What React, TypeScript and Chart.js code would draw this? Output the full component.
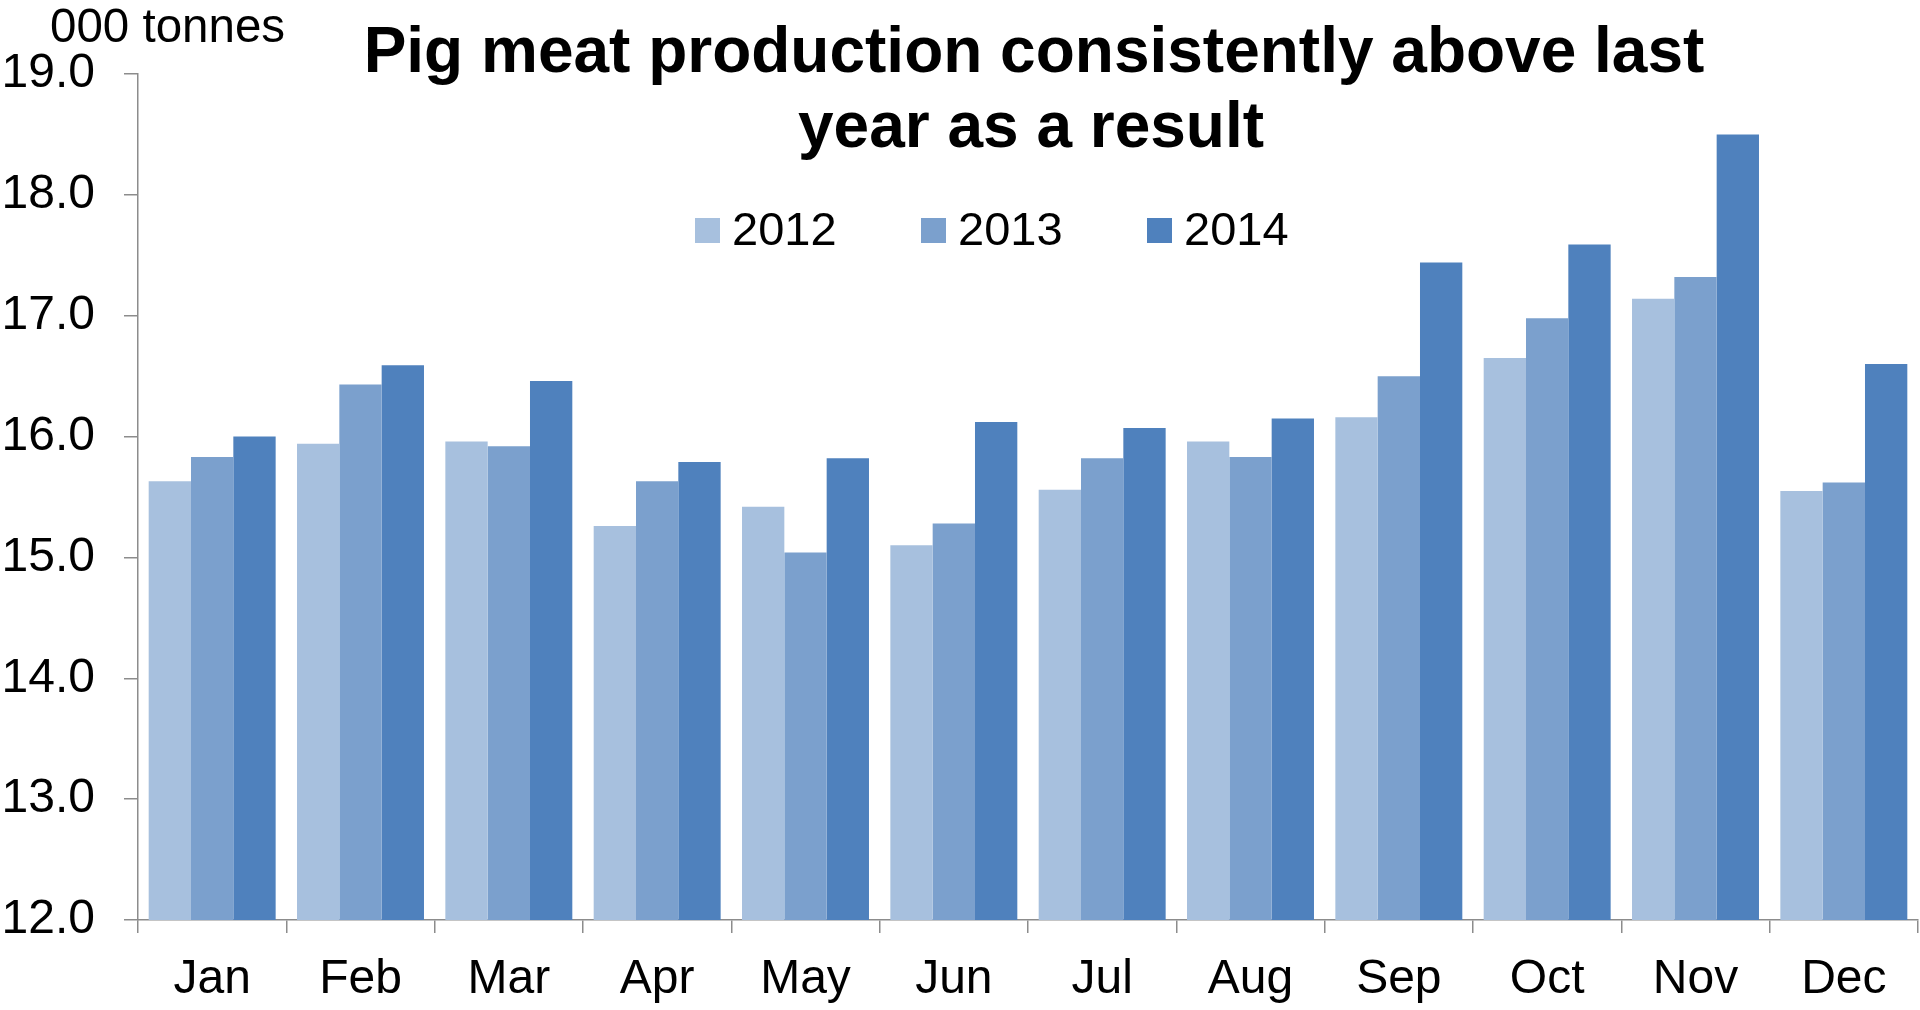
import React, { useEffect, useRef } from "react";
import { Chart, registerables } from "chart.js";

Chart.register(...registerables);

const months = ["Jan", "Feb", "Mar", "Apr", "May", "Jun", "Jul", "Aug", "Sep", "Oct", "Nov", "Dec"];
const seriesNames = ["2012", "2013", "2014"];
const values2012 = [15.63, 15.94, 15.96, 15.26, 15.42, 15.10, 15.56, 15.96, 16.16, 16.65, 17.14, 15.55];
const values2013 = [15.83, 16.43, 15.92, 15.63, 15.04, 15.28, 15.82, 15.83, 16.50, 16.98, 17.32, 15.62];
const values2014 = [16.00, 16.59, 16.46, 15.79, 15.82, 16.12, 16.07, 16.15, 17.44, 17.59, 18.50, 16.60];
const colors = ["#A7C0DE", "#7BA0CD", "#4F81BD"];
const titleLines = ["Pig meat production consistently above last", "year as a result"];
const unitLabel = "000 tonnes";

const FONT = "'Liberation Sans', Arial, sans-serif";

const overlayPlugin = {
  id: "overlay",
  afterDraw(chart: any) {
    const ctx = chart.ctx;
    ctx.save();
    ctx.fillStyle = "#000";
    ctx.textBaseline = "alphabetic";
    // unit label
    ctx.font = `47.5px ${FONT}`;
    ctx.textAlign = "left";
    ctx.fillText(unitLabel, 50, 42);
    // title
    ctx.font = `bold 64px ${FONT}`;
    ctx.textAlign = "center";
    ctx.fillText(titleLines[0], 1034, 72);
    ctx.fillText(titleLines[1], 1031, 147);
    // legend
    const startXs = [695, 921, 1147];
    ctx.font = `47px ${FONT}`;
    ctx.textAlign = "left";
    seriesNames.forEach((name, i) => {
      ctx.fillStyle = colors[i];
      ctx.fillRect(startXs[i], 218, 25, 25);
      ctx.fillStyle = "#000";
      ctx.fillText(name, startXs[i] + 37, 245);
    });
    ctx.restore();
  },
};

export default function App() {
  const ref = useRef<HTMLCanvasElement>(null);
  useEffect(() => {
    document.body.style.margin = "0";
    document.body.style.overflow = "hidden";
    const chart = new Chart(ref.current as HTMLCanvasElement, {
      type: "bar",
      data: {
        labels: months,
        datasets: [values2012, values2013, values2014].map((d, i) => ({
          label: seriesNames[i],
          data: d,
          backgroundColor: colors[i],
          borderWidth: 0,
          barPercentage: 1.0,
          categoryPercentage: 0.856,
        })),
      },
      options: {
        responsive: false,
        animation: false,
        layout: { padding: { top: 74, right: 2, bottom: 0, left: 0 } },
        plugins: {
          legend: { display: false },
          title: { display: false },
          tooltip: { enabled: false },
        },
        scales: {
          x: {
            afterFit: (s: any) => {
              s.height = 90;
            },
            grid: {
              display: true,
              drawOnChartArea: false,
              drawTicks: true,
              tickLength: 13,
              color: "#8C8C8C",
              lineWidth: 1.5,
              offset: true,
            },
            border: { display: true, color: "#8C8C8C", width: 1.5 },
            ticks: {
              color: "#000",
              font: { family: FONT, size: 48 },
              padding: 18,
              maxRotation: 0,
              autoSkip: false,
            },
          },
          y: {
            min: 12,
            max: 19,
            afterFit: (s: any) => {
              s.width = 138;
            },
            grid: {
              display: true,
              drawOnChartArea: false,
              drawTicks: true,
              tickLength: 14,
              color: "#8C8C8C",
              lineWidth: 1.5,
            },
            border: { display: true, color: "#8C8C8C", width: 1.5 },
            ticks: {
              stepSize: 1,
              color: "#000",
              font: { family: FONT, size: 48 },
              padding: 29,
              callback: (v: any) => Number(v).toFixed(1),
            },
          },
        },
      },
      plugins: [overlayPlugin],
    });
    return () => chart.destroy();
  }, []);
  return (
    <div style={{ width: 1920, height: 1010, position: "relative", background: "#fff" }}>
      <canvas ref={ref} width={1920} height={1010} style={{ display: "block" }} />
    </div>
  );
}
